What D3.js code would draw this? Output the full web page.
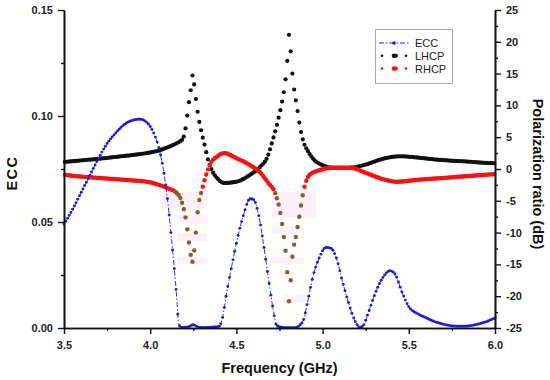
<!DOCTYPE html>
<html>
<head>
<meta charset="utf-8">
<script src="https://cdn.jsdelivr.net/npm/d3@7/dist/d3.min.js"></script>
<style>
  html, body { margin: 0; padding: 0; background: #fff; }
  svg { display: block; font-family: "Liberation Sans", Arial, Helvetica, sans-serif; }
</style>
</head>
<body>
<svg id="chart" width="550" height="380"></svg>
<script>
// ---------------- DATA ----------------
const xTicks = [3.5, 4.0, 4.5, 5.0, 5.5, 6.0];
const xMinorTicks = [3.75, 4.25, 4.75, 5.25, 5.75];
const eccTicks = [0.00, 0.05, 0.10, 0.15];
const eccMinorTicks = [0.025, 0.075, 0.125];
const dbTicks = [-25, -20, -15, -10, -5, 0, 5, 10, 15, 20, 25];
const dbMinorTicks = [-22.5, -17.5, -12.5, -7.5, -2.5, 2.5, 7.5, 12.5, 17.5, 22.5];

const seriesNames = ["ECC", "LHCP", "RHCP"];

// ECC (left axis)
const eccFreq = [3.50, 3.55, 3.60, 3.65, 3.70, 3.75, 3.80, 3.85, 3.90, 3.94, 3.98, 4.02, 4.05, 4.08, 4.10, 4.12, 4.14, 4.155, 4.165, 4.18,
  4.22, 4.25, 4.28, 4.31, 4.36, 4.40, 4.42, 4.44, 4.47, 4.50, 4.54, 4.58, 4.60, 4.63, 4.66, 4.69, 4.715, 4.735, 4.78, 4.84,
  4.87, 4.89, 4.915, 4.94, 4.98, 5.02, 5.05, 5.08, 5.115, 5.15, 5.19, 5.215, 5.235, 5.26, 5.29, 5.33, 5.36, 5.39, 5.42, 5.46,
  5.50, 5.55, 5.60, 5.65, 5.70, 5.75, 5.80, 5.85, 5.90, 5.95, 6.00];
const eccValues = [0.049, 0.056, 0.064, 0.072, 0.080, 0.087, 0.092, 0.096, 0.098, 0.0985, 0.097, 0.092, 0.085, 0.073, 0.061, 0.045, 0.028, 0.013, 0.002, 0.0003,
  0.0005, 0.0015, 0.0004, 0.0002, 0.0004, 0.0008, 0.005, 0.015, 0.028, 0.040, 0.053, 0.061, 0.0605, 0.053, 0.038, 0.021, 0.008, 0.001, 0.0002, 0.0002,
  0.0015, 0.004, 0.013, 0.023, 0.033, 0.038, 0.0375, 0.033, 0.022, 0.012, 0.003, 0.0003, 0.001, 0.006, 0.013, 0.021, 0.025, 0.027, 0.0255, 0.017,
  0.0100, 0.0068, 0.0048, 0.0030, 0.0018, 0.0010, 0.0008, 0.0010, 0.0018, 0.0030, 0.0047];

// LHCP (right axis, dB)
const lhcpFreq = [3.50, 3.60, 3.70, 3.80, 3.90, 4.00, 4.05, 4.10, 4.15, 4.18, 4.19, 4.20, 4.213, 4.225, 4.237, 4.245, 4.255, 4.265, 4.275, 4.285,
  4.30, 4.318, 4.335, 4.358, 4.387, 4.43, 4.50, 4.58, 4.64, 4.68, 4.71, 4.74, 4.765, 4.782, 4.795, 4.805, 4.815, 4.825, 4.835, 4.85,
  4.87, 4.89, 4.915, 4.945, 5.00, 5.06, 5.16, 5.25, 5.35, 5.45, 5.55, 5.65, 5.75, 5.85, 5.95, 6.00];
const lhcpValues = [1.1, 1.35, 1.6, 1.9, 2.2, 2.6, 2.9, 3.4, 4.0, 4.5, 4.8, 5.6, 8.0, 10.5, 12.8, 14.7, 13.3, 11.0, 9.0, 7.4,
  5.5, 3.5, 1.5, -0.2, -1.4, -2.2, -2.0, -0.9, 0.4, 1.9, 4.5, 7.5, 10.6, 13.4, 17.0, 21.1, 18.5, 15.0, 12.5, 10.0,
  6.5, 4.2, 2.8, 1.6, 0.6, 0.2, 0.2, 0.7, 1.6, 2.0, 1.8, 1.5, 1.3, 1.15, 0.95, 0.9];

// RHCP (right axis, dB)
const rhcpFreq = [3.50, 3.60, 3.70, 3.80, 3.90, 4.00, 4.05, 4.10, 4.15, 4.17, 4.18, 4.19, 4.205, 4.22, 4.235, 4.245, 4.255, 4.265, 4.272, 4.283,
  4.30, 4.32, 4.35, 4.385, 4.43, 4.50, 4.58, 4.64, 4.685, 4.725, 4.755, 4.775, 4.79, 4.798, 4.805, 4.815, 4.825, 4.845, 4.865, 4.88,
  4.895, 4.925, 4.98, 5.06, 5.16, 5.25, 5.35, 5.43, 5.55, 5.65, 5.75, 5.85, 5.95, 6.00];
const rhcpValues = [-0.9, -1.2, -1.4, -1.6, -1.8, -2.1, -2.5, -3.0, -3.7, -4.3, -4.9, -5.8, -7.6, -10.5, -13.5, -14.6, -12.8, -10.0, -7.6, -5.2,
  -3.3, -1.3, 0.9, 1.9, 2.5, 1.7, 0.6, -0.6, -2.2, -3.8, -6.9, -10.7, -14.3, -17.5, -20.8, -17.5, -13.8, -10.7, -7.5, -4.9,
  -2.8, -0.9, -0.2, 0.2, 0.2, -0.6, -1.6, -2.0, -1.7, -1.5, -1.3, -1.1, -0.9, -0.8];

// faint pink rendering artefacts behind the RHCP dips: [f0, f1, dB top, dB bottom]
const shadeF0 = [4.06, 4.155, 4.155, 4.155, 4.705, 4.705, 4.705, 4.77];
const shadeF1 = [4.33, 4.33, 4.33, 4.33, 4.965, 4.89, 4.89, 4.89];
const shadeTop = [-3.6, -7.3, -10.0, -13.9, -3.6, -9.0, -13.9, -19.8];
const shadeBot = [-6.2, -8.6, -11.3, -14.9, -7.6, -10.0, -14.9, -21.1];

// ---------------- CHART ----------------
const svg = d3.select("#chart");
const W = 550, H = 380;
const m = { left: 64, right: 55, top: 10, bottom: 52 };

const x = d3.scaleLinear().domain([3.5, 6.0]).range([m.left, W - m.right]);
const yL = d3.scaleLinear().domain([0, 0.15]).range([H - m.bottom, m.top]);
const yR = d3.scaleLinear().domain([-25, 25]).range([H - m.bottom, m.top]);

const colBlack = "#111111", colRed = "#ff1010", colBlue = "#1c1cd6", colBrown = "#85602a";

// shading
const shades = shadeF0.map((f0, i) => ({ f0, f1: shadeF1[i], t: shadeTop[i], b: shadeBot[i] }));
svg.append("g").selectAll("rect").data(shades).join("rect")
  .attr("x", d => x(d.f0)).attr("width", d => x(d.f1) - x(d.f0))
  .attr("y", d => yR(d.t)).attr("height", d => yR(d.b) - yR(d.t))
  .attr("fill", "#fdf0f9");

// helper: build curve path through data, and place markers at uniform frequency steps along it
function markersAlong(freqs, vals, yScale, step, start) {
  const pts = freqs.map((f, i) => [f, vals[i]]);
  const line = d3.line().x(d => x(d[0])).y(d => yScale(d[1])).curve(d3.curveMonotoneX);
  const p = svg.append("path").attr("d", line(pts)).attr("fill", "none").attr("stroke", "none");
  const node = p.node();
  const L = node.getTotalLength();
  const N = Math.ceil(L * 4);
  const samp = [];
  for (let i = 0; i <= N; i++) samp.push(node.getPointAtLength(i / N * L));
  const out = [];
  let j = 0;
  for (let f = start; f <= 6.0 + 1e-9; f += step) {
    const tx = x(f);
    while (j < samp.length - 1 && samp[j].x < tx) j++;
    const a = samp[Math.max(0, j - 1)], b = samp[j];
    let ty = b.y;
    if (b.x !== a.x) ty = a.y + (b.y - a.y) * (tx - a.x) / (b.x - a.x);
    out.push({ x: tx, y: ty, v: yScale.invert(ty) });
  }
  return { path: p, line, pts, markers: out };
}

// LHCP
const lh = markersAlong(lhcpFreq, lhcpValues, yR, 0.01, 3.505);
svg.append("g").selectAll("circle").data(lh.markers).join("circle")
  .attr("cx", d => d.x).attr("cy", d => d.y).attr("r", 2.1).attr("fill", colBlack);

// RHCP
const rh = markersAlong(rhcpFreq, rhcpValues, yR, 0.01, 3.505);
svg.append("g").selectAll("circle").data(rh.markers).join("circle")
  .attr("cx", d => d.x).attr("cy", d => d.y).attr("r", 2.2)
  .attr("fill", d => d.v < -3.5 ? colBrown : colRed);

// ECC
const ec = markersAlong(eccFreq, eccValues, yL, 0.01, 3.50);
ec.path.attr("stroke", colBlue).attr("stroke-width", 0.9).attr("stroke-dasharray", "5,2,1.5,2");
svg.append("g").selectAll("circle").data(ec.markers).join("circle")
  .attr("cx", d => d.x).attr("cy", d => d.y).attr("r", 1.45).attr("fill", colBlue);

// ---------------- AXES ----------------
const tickFont = g => g.selectAll("text")
  .attr("font-family", '"Liberation Sans", Arial, sans-serif')
  .attr("font-size", 11).attr("font-weight", "bold").attr("fill", "#222");
const axisStyle = g => {
  g.select(".domain").attr("stroke", "#111").attr("stroke-width", 1.6);
  g.selectAll(".tick line").attr("stroke", "#111").attr("stroke-width", 1.4);
};

svg.append("g").attr("transform", `translate(0,${H - m.bottom})`)
  .call(d3.axisBottom(x).tickValues(xMinorTicks).tickSize(3).tickSizeOuter(0).tickFormat(""))
  .call(axisStyle);
svg.append("g").attr("transform", `translate(0,${H - m.bottom})`)
  .call(d3.axisBottom(x).tickValues(xTicks).tickSize(6).tickSizeOuter(0).tickPadding(7).tickFormat(d3.format(".1f")))
  .call(axisStyle).call(tickFont);

svg.append("g").attr("transform", `translate(${m.left},0)`)
  .call(d3.axisLeft(yL).tickValues(eccMinorTicks).tickSize(3).tickSizeOuter(0).tickFormat(""))
  .call(axisStyle);
svg.append("g").attr("transform", `translate(${m.left},0)`)
  .call(d3.axisLeft(yL).tickValues(eccTicks).tickSize(6).tickSizeOuter(0).tickPadding(5).tickFormat(d3.format(".2f")))
  .call(axisStyle).call(tickFont);

svg.append("g").attr("transform", `translate(${W - m.right},0)`)
  .call(d3.axisRight(yR).tickValues(dbMinorTicks).tickSize(3).tickSizeOuter(0).tickFormat(""))
  .call(axisStyle);
svg.append("g").attr("transform", `translate(${W - m.right},0)`)
  .call(d3.axisRight(yR).tickValues(dbTicks).tickSize(6).tickSizeOuter(0).tickPadding(5).tickFormat(d => String(d)))
  .call(axisStyle).call(tickFont);

// axis titles
svg.append("text").attr("x", (x(3.5) + x(6.0)) / 2).attr("y", 373)
  .attr("text-anchor", "middle").attr("font-size", 14.5).attr("font-weight", "bold").attr("fill", "#111")
  .text("Frequency (GHz)");
svg.append("text").attr("transform", `translate(17,${(yL(0) + yL(0.15)) / 2 + 4}) rotate(-90)`)
  .attr("text-anchor", "middle").attr("font-size", 14.5).attr("font-weight", "bold").attr("fill", "#111")
  .attr("letter-spacing", 1.5)
  .text("ECC");
svg.append("text").attr("transform", `translate(533,${(yR(-25) + yR(25)) / 2 + 5}) rotate(90)`)
  .attr("text-anchor", "middle").attr("font-size", 14.5).attr("font-weight", "bold").attr("fill", "#111")
  .text("Polarization ratio (dB)");

// ---------------- LEGEND ----------------
const lg = svg.append("g").attr("transform", "translate(375,29)");
lg.append("rect").attr("x", 0.5).attr("y", 0.5).attr("width", 77).attr("height", 54)
  .attr("fill", "#fff").attr("stroke", "#aaa").attr("stroke-width", 1);
const legendColors = [colBlue, colBlack, colRed];
seriesNames.forEach((name, i) => {
  const cy = 14 + i * 12.8;
  const row = lg.append("g");
  if (i === 0) {
    row.append("line").attr("x1", 4).attr("x2", 34).attr("y1", cy).attr("y2", cy)
      .attr("stroke", colBlue).attr("stroke-width", 1).attr("stroke-dasharray", "5,2,1.5,2");
    row.append("circle").attr("cx", 19).attr("cy", cy).attr("r", 1.8).attr("fill", colBlue);
  } else {
    [7, 31].forEach(cx => row.append("circle").attr("cx", cx).attr("cy", cy).attr("r", 1.3).attr("fill", legendColors[i]));
    row.append("circle").attr("cx", 19).attr("cy", cy).attr("r", 2.3).attr("fill", legendColors[i]);
    row.append("circle").attr("cx", 21).attr("cy", cy).attr("r", 2.0).attr("fill", legendColors[i]);
  }
  row.append("text").attr("x", 40).attr("y", cy + 4)
    .attr("font-size", 11).attr("fill", "#222").text(name);
});
</script>
</body>
</html>
